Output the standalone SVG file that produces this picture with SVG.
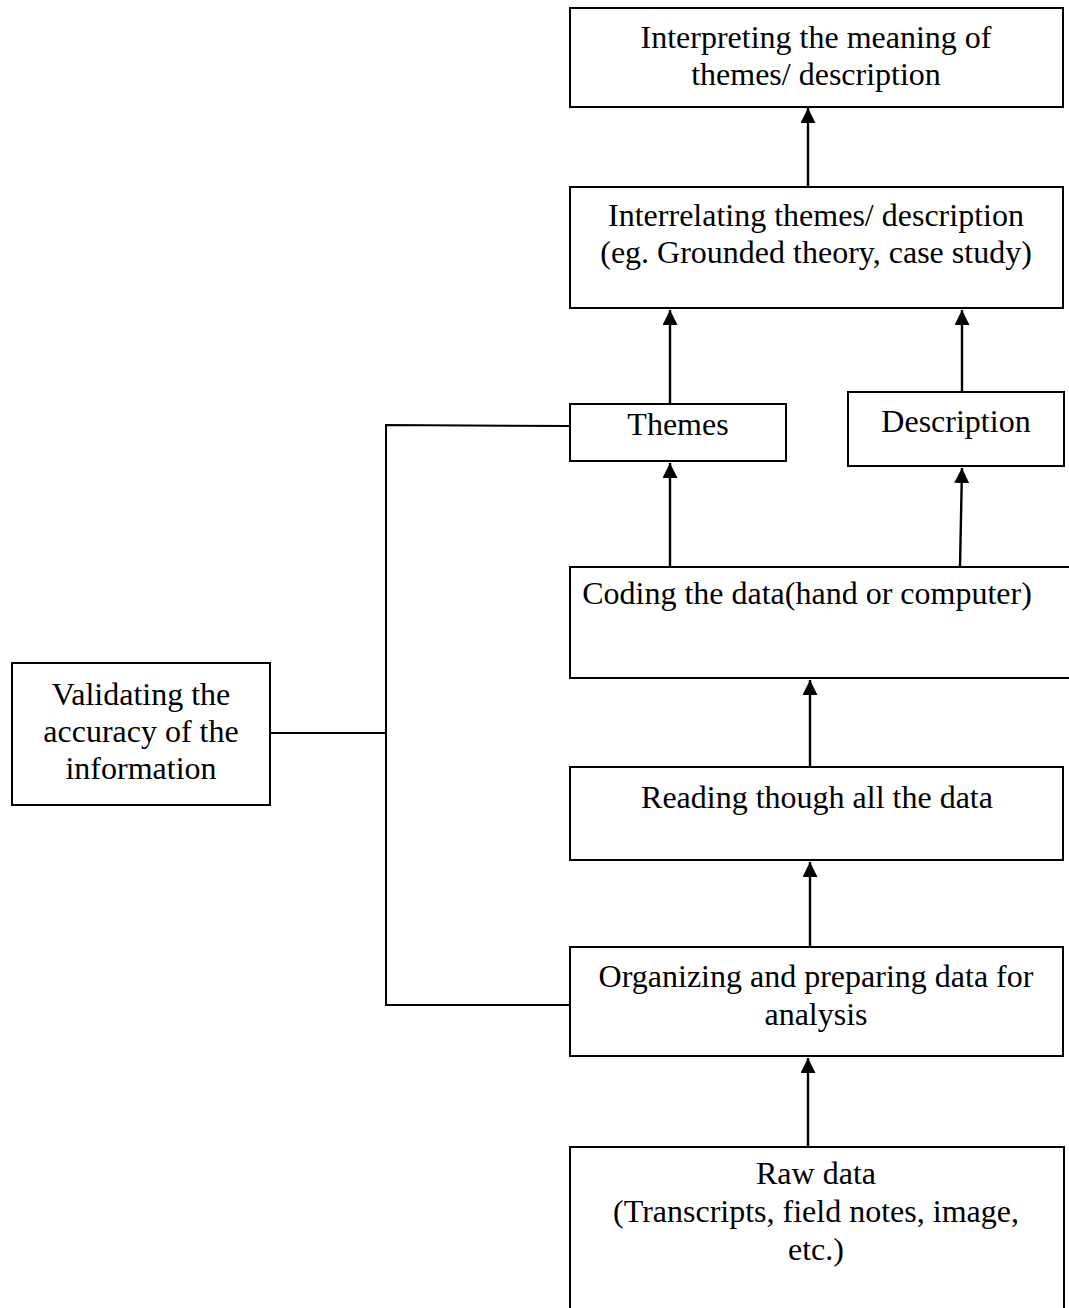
<svg xmlns="http://www.w3.org/2000/svg" width="1069" height="1308" viewBox="0 0 1069 1308">
  <style>
    .box { fill: #ffffff; stroke: #000000; stroke-width: 2; }
    .lbl { font-family: "Liberation Serif", "Times New Roman", serif; font-size: 32px; fill: #000000; text-anchor: middle; }
    .arrow { fill: none; stroke: #000000; stroke-width: 2.4; marker-end: url(#head); }
    .link { fill: none; stroke: #000000; stroke-width: 2; }
  </style>
  <defs>
    <marker id="head" markerUnits="userSpaceOnUse" markerWidth="16" markerHeight="16" refX="15" refY="7.5" orient="auto">
      <path d="M0,0 L15,7.5 L0,15 z" fill="#000000"/>
    </marker>
  </defs>
  <rect width="1069" height="1308" fill="#ffffff"/>

  <!-- connectors -->
  <g id="connectors">
    <line class="arrow" x1="808" y1="187" x2="808" y2="108"/>
    <line class="arrow" x1="670" y1="404" x2="670" y2="310"/>
    <line class="arrow" x1="962" y1="392" x2="962" y2="310"/>
    <line class="arrow" x1="670" y1="567" x2="670" y2="463"/>
    <line class="arrow" x1="960" y1="567" x2="962" y2="468"/>
    <line class="arrow" x1="810" y1="767" x2="810" y2="680"/>
    <line class="arrow" x1="810" y1="947" x2="810" y2="862"/>
    <line class="arrow" x1="808" y1="1147" x2="808" y2="1058"/>
    <!-- validation bracket -->
    <polyline class="link" points="570,426 386,425 386,1005 570,1005"/>
    <line class="link" x1="270" y1="733" x2="386" y2="733"/>
  </g>

  <g id="interpreting">
    <rect class="box" x="570" y="8" width="493" height="99"/>
    <text class="lbl" x="816" y="48">Interpreting the meaning of</text>
    <text class="lbl" x="816" y="85">themes/ description</text>
  </g>

  <g id="interrelating">
    <rect class="box" x="570" y="187" width="493" height="121"/>
    <text class="lbl" x="816" y="226">Interrelating themes/ description</text>
    <text class="lbl" x="816" y="263">(eg. Grounded theory, case study)</text>
  </g>

  <g id="themes">
    <rect class="box" x="570" y="404" width="216" height="57"/>
    <text class="lbl" x="678" y="435">Themes</text>
  </g>

  <g id="description">
    <rect class="box" x="848" y="392" width="216" height="74"/>
    <text class="lbl" x="956" y="432">Description</text>
  </g>

  <g id="coding">
    <rect class="box" x="570" y="567" width="510" height="111"/>
    <text class="lbl" x="807" y="604">Coding the data(hand or computer)</text>
  </g>

  <g id="reading">
    <rect class="box" x="570" y="767" width="493" height="93"/>
    <text class="lbl" x="817" y="808">Reading though all the data</text>
  </g>

  <g id="organizing">
    <rect class="box" x="570" y="947" width="493" height="109"/>
    <text class="lbl" x="816" y="987">Organizing and preparing data for</text>
    <text class="lbl" x="816" y="1025">analysis</text>
  </g>

  <g id="raw-data">
    <rect class="box" x="570" y="1147" width="494" height="180"/>
    <text class="lbl" x="816" y="1184">Raw data</text>
    <text class="lbl" x="816" y="1222">(Transcripts, field notes, image,</text>
    <text class="lbl" x="816" y="1260">etc.)</text>
  </g>

  <g id="validating">
    <rect class="box" x="12" y="663" width="258" height="142"/>
    <text class="lbl" x="141" y="705">Validating the</text>
    <text class="lbl" x="141" y="742">accuracy of the</text>
    <text class="lbl" x="141" y="779">information</text>
  </g>
</svg>
